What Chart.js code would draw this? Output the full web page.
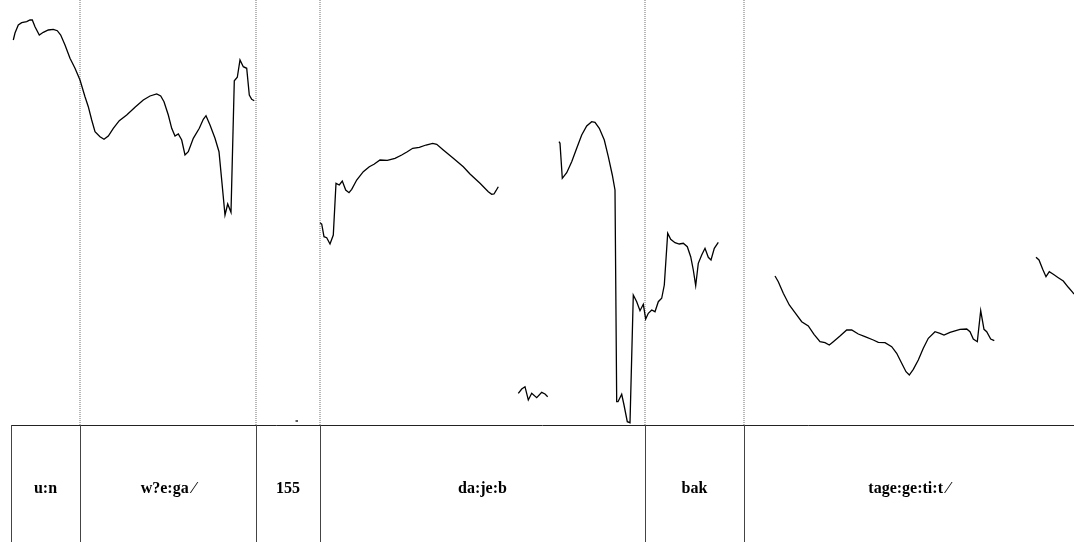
<!DOCTYPE html>
<html>
<head>
<meta charset="utf-8">
<script src="https://cdn.jsdelivr.net/npm/chart.js@4/dist/chart.umd.min.js"></script>
<style>
  html, body { margin: 0; padding: 0; background: #fff; }
  #wrap { width: 1074px; height: 542px; }
</style>
</head>
<body>
<div id="wrap"><canvas id="c" width="1074" height="542"></canvas></div>
<script>
// x: analysis frame index (5 ms frames), y: F0 in Hz
const seg1 = [[2.3,485],[4,492],[7.3,500],[10.7,502.3],[15.7,503.3],[19,505],[21.3,505],[24,498.3],[28.3,490],[32.3,492.7],[37.3,495],[42.3,495.7],[46.3,494.3],[49.7,490],[54,480],[59,466.7],[64,456.7],[69,445],[74,428.3],[77.3,418.3],[80.7,405],[84,393.3],[89,388.3],[93,385.7],[97.3,389],[102.3,396.7],[108.3,404.3],[115.7,410],[124,417.7],[132.3,425],[139,429],[145.7,431],[149.7,429],[153,423.3],[157.3,410],[160.7,396.7],[164,389],[167.3,391],[170.7,385],[174,370],[177.3,373.3],[182.3,386.7],[188.3,396.7],[192.3,405.7],[195,409.3],[199,400],[204,386.7],[208,373.3],[210.7,345],[214,310],[216.7,321],[220,312.7],[223.3,444.3],[226.3,447.7],[229,465],[232.3,458.3],[235.7,456.7],[238.3,430],[240.7,425.7],[243.3,424.3]];
const seg2 = [[284.5,104],[287,104]];
const seg3 = [[309,302.3],[310.7,301],[313,288.3],[315.7,287.3],[319,281],[322.3,290],[325,341.7],[328.3,340],[331.3,344],[334.7,335],[338,332.3],[340.7,335.7],[345.7,345],[352.3,353.3],[358.3,358.3],[363,360.7],[369,365],[376.3,364.7],[384,366.7],[390.7,370],[396.3,373.3],[401.7,376.7],[408.3,377.7],[415,380],[421.7,381.7],[425.7,380.7],[432.3,375],[442.3,366.7],[452.3,358.3],[459,351],[469,341.7],[477.3,333.3],[480.7,330.7],[483,331],[485,334.3],[487.3,338.3]];
const seg4 = [[507.3,131.7],[510.7,136],[514,138.3],[517.3,125],[520.7,131.7],[525.7,127.3],[530.7,132.7],[534,131],[536.7,128.3]];
const seg5 = [[548,383.3],[549,381.7],[551.3,346.7],[555.7,352.3],[560.7,363.3],[565.7,376.7],[570.7,390],[575.7,399],[580.7,403.3],[584,402.7],[588.3,396.7],[593.3,385],[597.3,368.3],[601.3,350],[604,335],[605.7,123.3],[607,123.3],[610.7,130.7],[613,120],[616.3,103.3],[619,102.3],[622.3,230],[625.7,223.3],[629,214.3],[632.3,220.7],[634.7,206],[637.3,211.7],[640.7,215],[644,213.3],[647.3,223.3],[650.7,226.7],[653.3,240],[656.7,291.7],[659.7,285.7],[664,282.3],[668.3,281],[672.3,281.7],[676.3,278.3],[679.7,268.3],[682.3,255],[684.7,239.3],[687.3,261.7],[690.7,270],[694,276.7],[697.3,267.7],[700,265],[703.3,276.7],[707.3,282.7]];
const seg6 = [[764,249],[767.3,243.3],[772.3,231.7],[778.3,220],[784,212.3],[790.7,203.3],[797.3,199],[803,190.7],[809,183.3],[814,182.3],[818.3,180],[822.3,183.3],[829,189],[835.7,195],[840.7,195],[847.3,191],[854,188.3],[862.3,185],[867.3,182.7],[874,182.3],[880.7,178.3],[885.7,171.7],[890.7,161.7],[895,153.3],[898.3,150],[902.3,155.7],[907.3,165],[912.3,176.7],[917.3,186.7],[924,193.3],[929,191.7],[933,190],[939,192.7],[949,195.7],[955.7,196],[959,193.3],[962.3,186],[966.3,183.3],[969.7,214.3],[973,195.7],[975.7,193.3],[979.7,186],[983.3,184.3]];
const seg7 = [[1025,267.7],[1028,265],[1031.7,255.7],[1035,248.3],[1038.3,253.3],[1042.3,250.7],[1047.3,247.3],[1052.3,244],[1057.3,237.7],[1061.7,232.7],[1063,231]];

const tierBounds = [0, 69, 245, 309, 634, 733, 1063];
const tierLabels = ["u:n", "w?e:ga \u2044", "155", "da:je:b", "bak", "tage:ge:ti:t \u2044"];
const xMin = 0, xMax = 1063;
const yMin = 100, yMax = 525;

const segments = [seg1, seg2, seg3, seg4, seg5, seg6, seg7];
const datasets = segments.map(s => ({
  data: s.map(p => ({x: p[0], y: p[1]})),
  borderColor: '#000',
  borderWidth: 1.3,
  pointRadius: 0,
  tension: 0,
  fill: false,
  clip: false
}));
// dotted boundary guides through the pitch panel
tierBounds.slice(1, -1).forEach(b => {
  datasets.push({
    data: [{x: b, y: yMin}, {x: b, y: yMax}],
    borderColor: '#6e6e6e',
    borderWidth: 1,
    borderDash: [1, 1],
    pointRadius: 0,
    fill: false,
    clip: false
  });
});

const tierPlugin = {
  id: 'tier',
  afterDraw(chart) {
    const ctx = chart.ctx;
    const xs = chart.scales.x;
    const top = chart.chartArea.bottom;
    const bottom = chart.height;
    ctx.save();
    ctx.lineWidth = 1;
    ctx.strokeStyle = '#222';
    ctx.beginPath();
    ctx.moveTo(xs.getPixelForValue(tierBounds[0]), top + 0.5);
    ctx.lineTo(chart.width, top + 0.5);
    ctx.stroke();
    ctx.strokeStyle = '#444';
    tierBounds.forEach((b, i) => {
      if (i === tierBounds.length - 1) return;
      const px = Math.round(xs.getPixelForValue(b)) + 0.5;
      ctx.beginPath();
      ctx.moveTo(px, top);
      ctx.lineTo(px, bottom);
      ctx.stroke();
    });
    ctx.fillStyle = '#000';
    ctx.font = 'bold 16px "Liberation Serif", "Times New Roman", serif';
    ctx.textAlign = 'center';
    ctx.textBaseline = 'middle';
    const midY = top + (bottom - top) / 2 + 5;
    tierLabels.forEach((lab, i) => {
      const cx = (xs.getPixelForValue(tierBounds[i]) + xs.getPixelForValue(tierBounds[i + 1])) / 2;
      ctx.fillText(lab, cx, midY);
    });
    ctx.restore();
  }
};

new Chart(document.getElementById('c'), {
  type: 'line',
  data: { datasets },
  options: {
    responsive: false,
    animation: false,
    devicePixelRatio: 1,
    layout: { padding: { left: 11, right: 0, top: 0, bottom: 117 } },
    plugins: { legend: { display: false }, tooltip: { enabled: false } },
    scales: {
      x: { type: 'linear', min: xMin, max: xMax, display: false },
      y: { type: 'linear', min: yMin, max: yMax, display: false }
    }
  },
  plugins: [tierPlugin]
});
</script>
</body>
</html>
